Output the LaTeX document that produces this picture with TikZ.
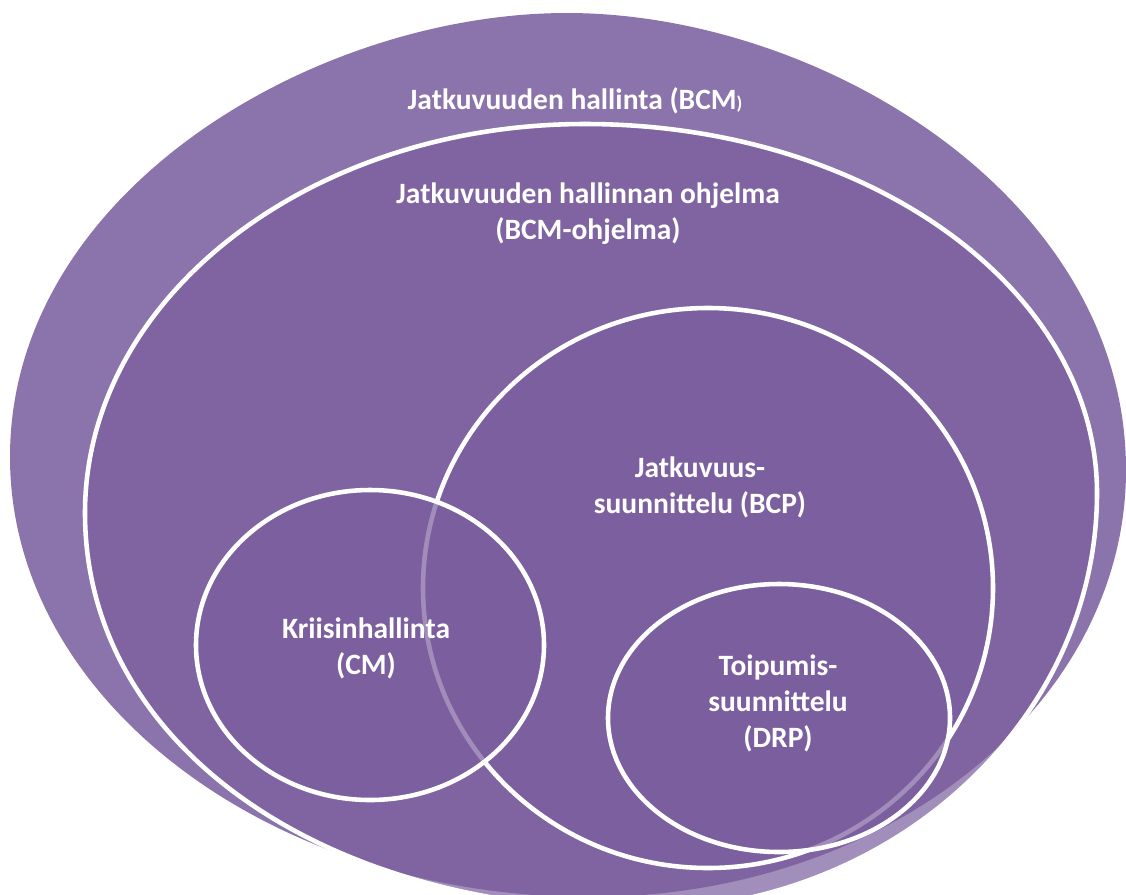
\documentclass[tikz,border=0pt]{standalone}
\usepackage{fontspec}
\setmainfont{Carlito}
\usepackage{tikz}
\definecolor{outerpurple}{RGB}{139,115,171}
\definecolor{innerpurple}{RGB}{123,94,158}

\begin{document}
\begin{tikzpicture}[x=0.02cm, y=-0.02cm,
		ring/.style={draw=white, line width=2.6pt, fill=innerpurple, fill opacity=0.7},
		every node/.style={text=white, font=\fontsize{16.8}{20.5}\selectfont\bfseries, align=center}]
			\useasboundingbox (0,0) rectangle (1126,894);
			\clip (0,0) rectangle (1126,894);
			% outer egg
			\fill[outerpurple] (567,13) .. controls (819,13) and (1126,196) .. (1126,470)
				.. controls (1126,706) and (886,897) .. (590,897)
				.. controls (270,897) and (10,700) .. (10,457)
				.. controls (10,191) and (316,13) .. (567,13) -- cycle;
			% programme
			\draw[ring] (585,124) .. controls (868,124) and (1097,289) .. (1097,493)
				.. controls (1097,722) and (891,910) .. (640,910)
				.. controls (318,910) and (85,743) .. (85,513)
				.. controls (85,298) and (309,124) .. (585,124) -- cycle;
			\draw[ring] (708,588) ellipse [x radius=285, y radius=280];
			\draw[ring] (370,645) ellipse [x radius=174, y radius=155];
			\draw[ring] (779,718) ellipse [x radius=171, y radius=134];
			
			\node (bcm) at (575,101) {Jatkuvuuden hallinta (BCM{\fontsize{10.5}{12}\selectfont)}};
			\node (prog) at (588,214) {Jatkuvuuden hallinnan ohjelma\\(BCM-ohjelma)};
			\node (bcp) at (700,487) {Jatkuvuus-\\suunnittelu (BCP)};
			\node (cm) at (366,648) {Kriisinhallinta\\(CM)};
			\node (drp) at (778,703) {Toipumis-\\suunnittelu\\(DRP)};
		\end{tikzpicture}
\end{document}
